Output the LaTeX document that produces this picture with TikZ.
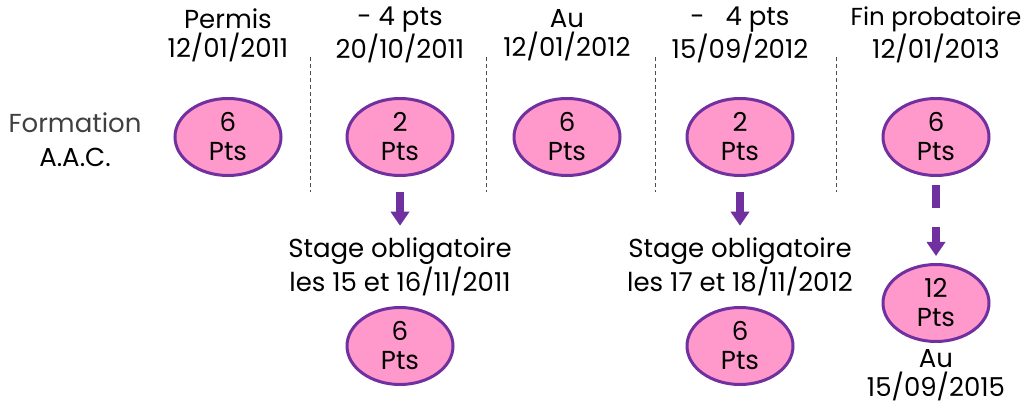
\documentclass[tikz,border=0pt]{standalone}
\usepackage{fontspec}
\setmainfont{Poppins}
\usetikzlibrary{arrows.meta,shapes.geometric,positioning}
\definecolor{ptsfill}{HTML}{FF99CC}
\definecolor{ptsline}{HTML}{7030A0}
\begin{document}
\begin{tikzpicture}[x=0.5pt,y=-0.5pt]

        \tikzset{pts/.style={ellipse,draw=ptsline,fill=ptsfill,line width=1.5pt,
                minimum width=53pt,minimum height=38.5pt,inner sep=0pt,align=center}}
        \tikzset{lbl/.style={align=center,inner sep=0pt}}
        \tikzset{sep/.style={black!70,line width=0.5pt,dash pattern=on 2pt off 1.5pt}}
        \tikzset{down/.style={ptsline,line width=4pt,-{Triangle[width=9pt,length=7pt]}}}

        \useasboundingbox (0,0) rectangle (1023,405);
        \fontsize{13}{14.5}\selectfont

        % Left label
        \node (form) at (75,123) [lbl,text=black!75] {Formation};
        \node (aac) at (75,157) [lbl] {A.A.C.};

        % Dates and points
        \foreach \i/\x/\head/\date/\p in {1/228/{Permis}/{12/01/2011}/6,
                2/400/{- 4 pts}/{20/10/2011}/2, 3/567/{Au}/{12/01/2012}/6,
                4/740/{-\ \ \ 4 pts}/{15/09/2012}/2,
                5/936/{{\fontsize{12.3}{14.5}\selectfont Fin probatoire}}/{12/01/2013}/6} {
            \node (h-\i) at (\x,35) [lbl] {\head\\\date};
            \node (e-\i) at (\x,137) [pts] {\p\\Pts};
        }
        % Separators
        \foreach \x in {310,486,655,836} {
            \draw[sep] (\x,57) -- (\x,192);
        }

        % Stages
        \node (s-2) at (400,267) [lbl] {Stage obligatoire\\les 15 et 16/11/2011};
        \node (s-4) at (740,267) [lbl] {Stage obligatoire\\les 17 et 18/11/2012};
        \node (b-2) at (400,346) [pts] {6\\Pts};
        \node (b-4) at (740,346) [pts] {6\\Pts};
        \draw[down,shorten <=7.5pt,shorten >=6pt] (e-2) -- (s-2);
        \draw[down,shorten <=7.5pt,shorten >=6pt] (e-4) -- (s-4);

        % End of probation
        \node (f-5) at (936,303) [pts] {12\\Pts};
        \node (au) at (936,375) [lbl] {Au\\15/09/2015};
        \draw[down,dash pattern=on 11.5pt off 9.5pt,shorten <=4pt,shorten >=3.5pt] (e-5) -- (f-5);

\end{tikzpicture}
\end{document}
